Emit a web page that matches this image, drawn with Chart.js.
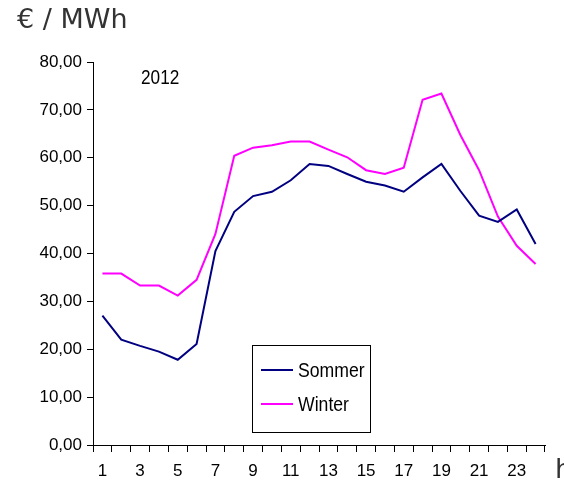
<!DOCTYPE html>
<html lang="de">
<head>
    <meta charset="UTF-8">
    <title>Strompreis 2012</title>
    <script src="https://cdn.jsdelivr.net/npm/chart.js"></script>
    <style>
        body {
            margin: 0;
            background: #fff;
            font-family: 'Liberation Sans', Arial, sans-serif;
        }
        #wrap {
            position: relative;
            width: 564px;
            height: 493px;
        }
        .lbl {
            position: absolute;
            white-space: nowrap;
            line-height: 1;
        }
        #unit {
            left: 17px;
            top: 5px;
            font-family: 'DejaVu Sans', sans-serif;
            font-size: 27px;
            color: #333;
        }
        #year {
            left: 141px;
            top: 67px;
            font-size: 20px;
            color: #000;
            transform: scaleX(0.86);
            transform-origin: left center;
        }
        #hour {
            left: 555px;
            top: 455px;
            font-family: 'DejaVu Sans', sans-serif;
            font-size: 27px;
            color: #333;
        }
        #legend {
            position: absolute;
            left: 252px;
            top: 345px;
            width: 119px;
            height: 88px;
            border: 1px solid #000;
            box-sizing: border-box;
            font-size: 21px;
        }
        #legend .item {
            position: absolute;
            left: 8px;
            display: flex;
            align-items: center;
        }
        #legend .swatch {
            width: 32px;
            height: 2px;
            margin-right: 5px;
        }
        #legend .name {
            display: inline-block;
            transform: scaleX(0.84);
            transform-origin: left center;
        }
    </style>
</head>
<body>
<div id="wrap">
    <canvas id="priceChart" width="564" height="493"></canvas>
    <div class="lbl" id="unit">€ / MWh</div>
    <div class="lbl" id="year">2012</div>
    <div class="lbl" id="hour">h</div>
    <div id="legend"></div>
</div>
<script>
    // Stunden 1..24
    const hours = [1, 2, 3, 4, 5, 6, 7, 8, 9, 10, 11, 12, 13, 14, 15, 16, 17, 18, 19, 20, 21, 22, 23, 24];

    // Durchschnittspreise €/MWh
    const sommer = [27.0, 22.0, 20.7, 19.5, 17.8, 21.1, 40.5, 48.7, 52.0, 52.9, 55.3, 58.7,
        58.3, 56.6, 55.0, 54.2, 52.9, 55.9, 58.7, 53.1, 47.9, 46.6, 49.2, 42.0];
    const winter = [35.8, 35.8, 33.3, 33.3, 31.2, 34.5, 44.1, 60.4, 62.1, 62.6, 63.4, 63.4,
        61.7, 60.1, 57.4, 56.6, 57.9, 72.1, 73.4, 64.8, 57.4, 47.7, 41.6, 37.8];

    const seriesNames = ['Sommer', 'Winter'];
    const seriesColors = ['#000080', '#ff00ff'];

    const tickFont = {family: "'Liberation Sans', Arial, sans-serif", size: 17};

    const ctx = document.getElementById('priceChart').getContext('2d');
    const chart = new Chart(ctx, {
        type: 'line',
        data: {
            labels: hours,
            datasets: [sommer, winter].map((values, i) => ({
                label: seriesNames[i],
                data: values,
                borderColor: seriesColors[i],
                backgroundColor: seriesColors[i],
                borderWidth: 2,
                pointRadius: 0,
                tension: 0,
                fill: false
            }))
        },
        options: {
            responsive: false,
            animation: false,
            layout: {
                padding: {top: 62, right: 19, left: 0, bottom: 0}
            },
            plugins: {
                legend: {display: false},
                tooltip: {enabled: false}
            },
            scales: {
                x: {
                    offset: true,
                    grid: {
                        offset: true,
                        drawOnChartArea: false,
                        tickLength: 7,
                        color: '#000'
                    },
                    border: {color: '#000', width: 1},
                    ticks: {
                        autoSkip: false,
                        maxRotation: 0,
                        color: '#000',
                        font: tickFont,
                        padding: 9,
                        callback: (v, i) => (i % 2 === 0 ? hours[i] : '')
                    },
                    afterFit: scale => { scale.height = 48; }
                },
                y: {
                    min: 0,
                    max: 80,
                    grid: {
                        drawOnChartArea: false,
                        tickLength: 6,
                        color: '#000'
                    },
                    border: {color: '#000', width: 1},
                    ticks: {
                        stepSize: 10,
                        color: '#000',
                        font: tickFont,
                        padding: 5,
                        callback: v => v.toFixed(2).replace('.', ',')
                    },
                    afterFit: scale => { scale.width = 93; }
                }
            }
        }
    });

    // Legende im Kasten
    const legend = document.getElementById('legend');
    chart.data.datasets.forEach((ds, i) => {
        const item = document.createElement('div');
        item.className = 'item';
        item.style.top = (i === 0 ? 12 : 46) + 'px';
        item.innerHTML = '<span class="swatch" style="background:' + ds.borderColor + '"></span>' +
            '<span class="name">' + ds.label + '</span>';
        legend.appendChild(item);
    });
</script>
</body>
</html>
